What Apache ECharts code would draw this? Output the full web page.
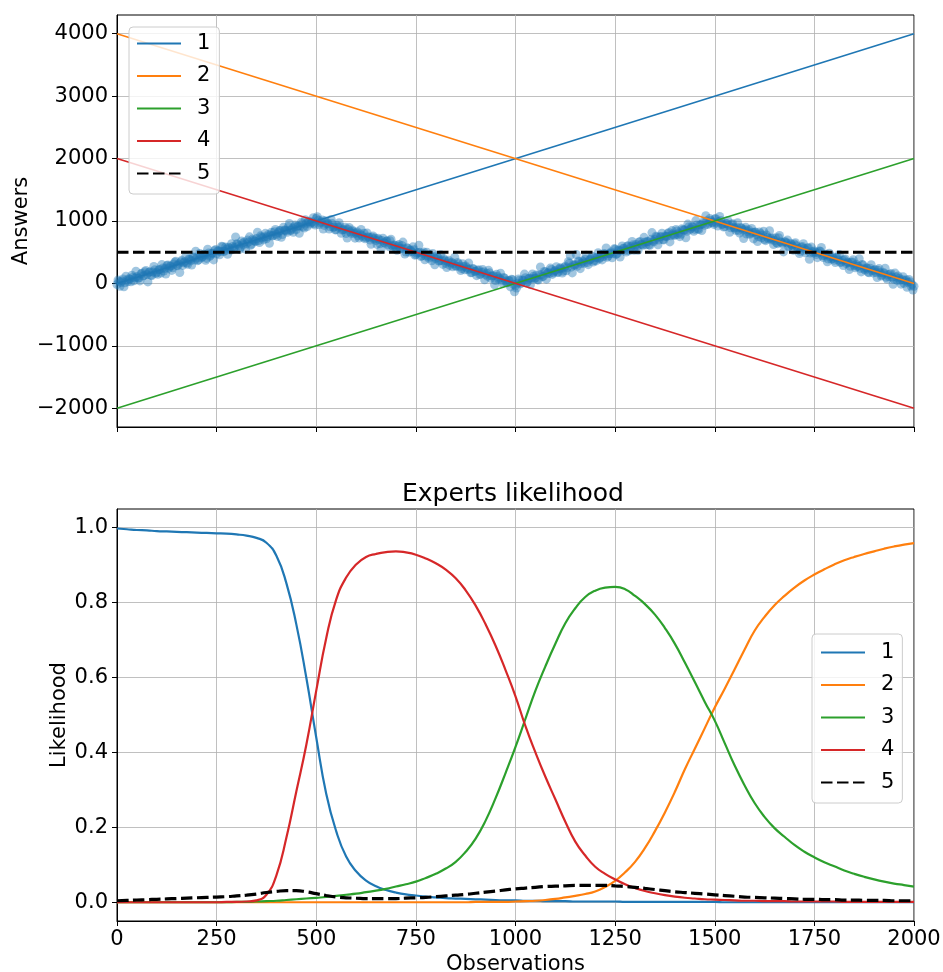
<!DOCTYPE html>
<html><head><meta charset="utf-8">
<script src="https://cdn.jsdelivr.net/npm/echarts@6/dist/echarts.min.js"></script>
<style>html,body{margin:0;padding:0;background:#fff}#c{width:943px;height:972px}</style>
</head><body><div id="c"></div><script>
// ---------- data ----------
const expertNames = ['1', '2', '3', '4', '5'];
const expertColors = ['#1f77b4', '#ff7f0e', '#2ca02c', '#d62728', '#000000'];
const obsRange = [0, 2000];
const obsTicks = [0, 250, 500, 750, 1000, 1250, 1500, 1750, 2000];
const answerTicks = [-2000, -1000, 0, 1000, 2000, 3000, 4000];
const likelihoodTicks = [0, 0.2, 0.4, 0.6, 0.8, 1.0];
// expert predictions at the first and the last observation
const expertAtStart = [0, 4000, -2000, 2000, 500];
const expertAtEnd = [4000, 0, 2000, -2000, 500];

// observed answers, one every 5 observations (x = 0, 5, ..., 2000)
const answersA = [
-18,35,13,70,9,56,74,25,102,87,109,84,153,118,188,142,177,132,182,219,
179,221,165,249,236,286,244,277,251,342,290,313,346,289,353,328,391,364,424,375,
408,377,441,429,455,401,487,451,485,528,473,522,511,588,516,551,580,534,590,577,
634,605,578,646,664,633,664,610,710,679,718,682,762,728,749,716,783,770,760,827,
786,816,848,784,853,842,910,847,883,909,863,921,917,957,888,965,992,952,987,960,1041,
1012,971,1017,929,955,956,906,958,904,860,902,909,853,863,799,866,828,855,797,808,
763,794,767,805,731,749,694,741,710,688,723,636,687,653,676,617,684,605,616,568,
601,560,609,555,502,564,532,506,541,463,497,498,444,503,440,439,458,363,425,396,
415,364,368,397,321,350,289,339,314,278,336,271,237,273,280,222,231,173,232,194,
206,142,178,187,139,115,170,117,124,47,111,85,51,94,42,10,42,67,-14,-40,
1,50,8,45,91,25,83,76,114,84,60,139,137,112,186,162,157,225,170,209,
179,237,233,196,276,253,325,261,301,298,274,349,318,348,389,335,370,401,344,414,
416,393,463,430,468,418,474,505,475,550,477,529,525,562,529,597,522,591,618,592,
592,660,629,610,665,667,617,706,678,703,744,696,749,701,760,754,817,764,792,772,
841,809,786,860,855,834,908,877,904,865,934,863,938,956,931,1003,963,1009,976,1036,
967,992,1007,952,909,959,932,891,956,885,897,844,895,856,863,790,860,802,819,821,
784,748,797,771,703,775,710,724,728,687,652,732,669,636,665,646,587,643,601,632,
604,559,515,590,558,528,571,486,511,520,463,490,517,443,447,466,390,425,427,370,
412,373,333,373,378,317,333,274,344,289,306,279,241,302,231,247,178,244,206,211,
175,213,174,134,169,98,140,147,102,65,104,119,49,62,2,58,17,26,-20,-45
];
// observed answers in between (x = 2.5, 7.5, ..., 1997.5)
const answersB = [
53,-47,40,-55,116,28,68,131,41,197,87,40,161,127,209,24,187,124,272,162,
147,224,302,199,150,296,278,208,313,354,283,175,370,331,428,306,383,294,420,515,
365,481,413,466,372,547,436,480,377,542,521,460,597,516,583,468,565,636,551,745,
629,546,678,621,549,694,746,628,692,669,820,654,744,697,802,746,643,819,768,865,
753,844,740,898,856,818,960,855,819,937,913,804,980,907,1021,910,986,972,1053,936,
1069,944,987,872,1005,972,871,1026,900,857,931,973,803,860,898,727,895,801,832,725,
828,728,865,744,716,809,737,626,761,728,625,700,542,723,644,682,589,707,588,611,
532,625,559,662,471,570,500,535,586,453,488,613,432,484,379,499,404,423,481,300,
444,359,459,305,368,254,373,325,268,420,277,314,207,317,218,252,328,170,239,193,
124,220,151,225,57,163,210,81,119,-21,146,70,163,7,82,9,48,-56,60,-135,
-73,70,-8,55,149,6,74,-20,152,81,136,53,265,110,193,68,181,246,144,197,
267,177,251,165,256,203,348,445,168,289,463,358,236,365,324,451,301,383,436,365,
361,492,416,377,480,567,439,479,412,554,465,536,424,601,559,502,604,558,673,530,
623,531,671,623,738,618,671,612,814,666,757,620,748,805,697,752,801,665,846,775,
862,784,749,875,854,732,950,860,913,836,1007,873,937,847,992,1085,943,1039,978,945,
1036,918,1073,941,903,960,1008,819,946,897,850,972,805,885,720,899,834,786,881,713,
822,671,825,732,834,685,740,843,697,622,732,637,767,654,505,669,696,598,623,531,
651,550,478,579,636,491,567,386,582,489,498,413,520,575,414,464,347,485,390,399,
336,419,465,342,288,393,342,223,340,381,251,272,396,185,294,215,246,169,300,168,
223,94,238,118,167,244,69,105,159,-13,166,50,84,-12,107,41,-61,62,-43,-105
];
const answersStep = 5;

// expert likelihood, one value every 25 observations (x = 0, 25, ..., 2000)
const likeStep = 25;
const like1 = [
0.998,0.996,0.994,0.993,0.991,0.990,0.989,0.988,0.987,0.986,
0.985,0.984,0.982,0.979,0.973,0.960,0.925,0.852,0.742,0.600,
0.440,0.290,0.190,0.122,0.083,0.058,0.043,0.033,0.026,0.021,
0.018,0.015,0.013,0.011,0.010,0.009,0.008,0.007,0.006,0.005,
0.005,0.004,0.004,0.003,0.003,0.003,0.002,0.002,0.002,0.002,
0.002,0.001,0.001,0.001,0.001,0.001,0.001,0.001,0.001,0.001,
0.001,0,0,0,0,0,0,0,0,0,
0,0,0,0,0,0,0,0,0,0,0];
const like2 = [
0,0,0,0,0,0,0,0,0,0,
0,0,0,0,0,0,0,0,0,0,
0,0,0,0,0,0,0,0,0,0,
0,0,0,0,0,0,0.001,0.001,0.001,0.001,
0.002,0.003,0.004,0.006,0.009,0.013,0.017,0.022,0.029,0.041,
0.057,0.080,0.108,0.145,0.190,0.240,0.295,0.355,0.410,0.465,
0.520,0.570,0.622,0.675,0.725,0.762,0.793,0.818,0.840,0.859,
0.875,0.889,0.902,0.913,0.922,0.930,0.937,0.944,0.950,0.955,0.959];
const like3 = [
0,0,0,0,0,0,0,0,0,0,
0,0,0.001,0.001,0.002,0.003,0.004,0.006,0.008,0.010,
0.012,0.014,0.017,0.020,0.023,0.027,0.031,0.036,0.042,0.048,
0.055,0.065,0.076,0.090,0.108,0.135,0.170,0.218,0.278,0.345,
0.415,0.490,0.565,0.630,0.690,0.745,0.785,0.815,0.832,0.840,
0.842,0.836,0.818,0.796,0.768,0.732,0.690,0.640,0.588,0.535,
0.485,0.425,0.365,0.312,0.265,0.228,0.198,0.175,0.153,0.135,
0.120,0.107,0.096,0.085,0.076,0.068,0.061,0.055,0.050,0.046,0.042];
const like4 = [
0,0,0,0,0,0,0,0,0,0,
0,0.001,0.001,0.002,0.005,0.020,0.072,0.172,0.296,0.420,
0.565,0.705,0.808,0.867,0.902,0.922,0.930,0.935,0.937,0.934,
0.928,0.918,0.905,0.888,0.865,0.833,0.792,0.742,0.685,0.620,
0.550,0.470,0.400,0.335,0.275,0.215,0.162,0.125,0.095,0.076,
0.061,0.048,0.038,0.030,0.024,0.019,0.015,0.012,0.010,0.008,
0.007,0.006,0.005,0.004,0.004,0.003,0.003,0.003,0.002,0.002,
0.002,0.002,0.002,0.001,0.001,0.001,0.001,0.001,0.001,0.001,0.001];
const like5 = [
0.004,0.005,0.006,0.007,0.008,0.009,0.010,0.011,0.012,0.013,
0.014,0.015,0.017,0.019,0.022,0.026,0.029,0.031,0.031,0.028,
0.023,0.018,0.014,0.012,0.011,0.010,0.010,0.010,0.010,0.011,
0.012,0.013,0.015,0.017,0.019,0.021,0.024,0.027,0.030,0.033,
0.036,0.038,0.040,0.042,0.043,0.044,0.045,0.045,0.045,0.045,
0.044,0.042,0.040,0.037,0.034,0.031,0.028,0.026,0.024,0.022,
0.020,0.018,0.016,0.014,0.013,0.012,0.011,0.010,0.009,0.008,
0.008,0.007,0.007,0.006,0.006,0.005,0.005,0.005,0.004,0.004,0.004];
const likelihoods = [like1, like2, like3, like4, like5];

// ---------- chart ----------
const FONT = 'DejaVu Sans';
const minus = v => String(v).replace('-', '\u2212');
const axisLine = {show: true, onZero: false, lineStyle: {color: '#000', width: 1}};
const axisTick = {show: true, inside: false, length: 5, lineStyle: {color: '#000', width: 1}};
const splitLine = {show: true, lineStyle: {color: '#b0b0b0', width: 0.8}};
const tickFont = {fontSize: 21, color: '#000', fontFamily: FONT};

const scatterData = [];
answersA.forEach((v, i) => scatterData.push([i * answersStep, v]));
answersB.forEach((v, i) => scatterData.push([i * answersStep + answersStep / 2, v]));

const series = [{
  name: 'obs', type: 'scatter', xAxisIndex: 0, yAxisIndex: 0,
  data: scatterData, symbol: 'circle', symbolSize: 9,
  itemStyle: {color: '#1f77b4', opacity: 0.42}, z: 2, silent: true
}];
expertNames.forEach((n, k) => {
  series.push({
    name: n, type: 'line', xAxisIndex: 0, yAxisIndex: 0,
    data: [[obsRange[0], expertAtStart[k]], [obsRange[1], expertAtEnd[k]]],
    symbol: 'none', showSymbol: false, z: 3,
    lineStyle: k === 4 ? {color: '#000', width: 3, type: [11.5, 4.5]} : {color: expertColors[k], width: 1.6},
    itemStyle: {color: expertColors[k]}
  });
});
expertNames.forEach((n, k) => {
  series.push({
    name: 'L' + n, type: 'line', xAxisIndex: 1, yAxisIndex: 1,
    data: likelihoods[k].map((v, i) => [i * likeStep, v]),
    symbol: 'none', showSymbol: false, smooth: 0.5, z: 3,
    lineStyle: k === 4 ? {color: '#000', width: 3.2, type: [11.5, 4.5]} : {color: expertColors[k], width: 2.2},
    itemStyle: {color: expertColors[k]}
  });
});

const legendCommon = {
  orient: 'vertical', itemWidth: 44, itemHeight: 14, itemGap: 11.5,
  backgroundColor: 'rgba(255,255,255,0.8)', borderColor: '#cccccc', borderWidth: 1, borderRadius: 4,
  selectedMode: false,
  itemStyle: {opacity: 0},
  textStyle: {fontSize: 21, color: '#000', fontFamily: FONT, lineHeight: 20, padding: [0, 0, 0, 11]}
};

const gridCommon = {left: 117, right: 29, height: 412, show: true, borderColor: '#000', borderWidth: 1,
  backgroundColor: 'transparent', containLabel: false, outerBoundsMode: 'none'};

const option = {
  animation: false,
  backgroundColor: '#ffffff',
  title: {
    text: 'Experts likelihood', left: 402, top: 482, padding: 0,
    textStyle: {fontSize: 25, fontWeight: 'normal', color: '#000', fontFamily: FONT}
  },
  legend: [
    Object.assign({}, legendCommon, {data: expertNames, left: 129, top: 27, padding: [6, 9, 10, 7]}),
    Object.assign({}, legendCommon, {data: expertNames.map(n => 'L' + n), formatter: s => s.slice(1),
      left: 812, top: 634, padding: [8, 8, 10, 8]})
  ],
  grid: [
    Object.assign({}, gridCommon, {top: 15}),
    Object.assign({}, gridCommon, {top: 509})
  ],
  xAxis: [
    {type: 'value', gridIndex: 0, min: obsRange[0], max: obsRange[1], interval: 250,
     axisLine, axisTick, splitLine, axisLabel: {show: false}},
    {type: 'value', gridIndex: 1, min: obsRange[0], max: obsRange[1], interval: 250,
     axisLine, axisTick, splitLine,
     axisLabel: Object.assign({margin: 8, formatter: v => String(v)}, tickFont),
     name: 'Observations', nameLocation: 'middle', nameGap: 33,
     nameTextStyle: {fontSize: 21, color: '#000', fontFamily: FONT}}
  ],
  yAxis: [
    {type: 'value', gridIndex: 0, min: -2300, max: 4300,
     axisLine, axisTick: Object.assign({customValues: answerTicks}, axisTick), splitLine,
     axisLabel: Object.assign({margin: 9, customValues: answerTicks, formatter: minus}, tickFont),
     name: 'Answers', nameLocation: 'middle', nameGap: 85, nameMoveOverlap: false,
     nameTextStyle: {fontSize: 21, color: '#000', fontFamily: FONT}},
    {type: 'value', gridIndex: 1, min: -0.05, max: 1.05,
     axisLine, axisTick: Object.assign({customValues: likelihoodTicks}, axisTick), splitLine,
     axisLabel: Object.assign({margin: 9, customValues: likelihoodTicks, formatter: v => Number(v).toFixed(1)}, tickFont),
     name: 'Likelihood', nameLocation: 'middle', nameGap: 47, nameMoveOverlap: false,
     nameTextStyle: {fontSize: 21, color: '#000', fontFamily: FONT}}
  ],
  series
};
const chart = echarts.init(document.getElementById('c'), null, {renderer: 'canvas'});
chart.setOption(option);
</script></body></html>
